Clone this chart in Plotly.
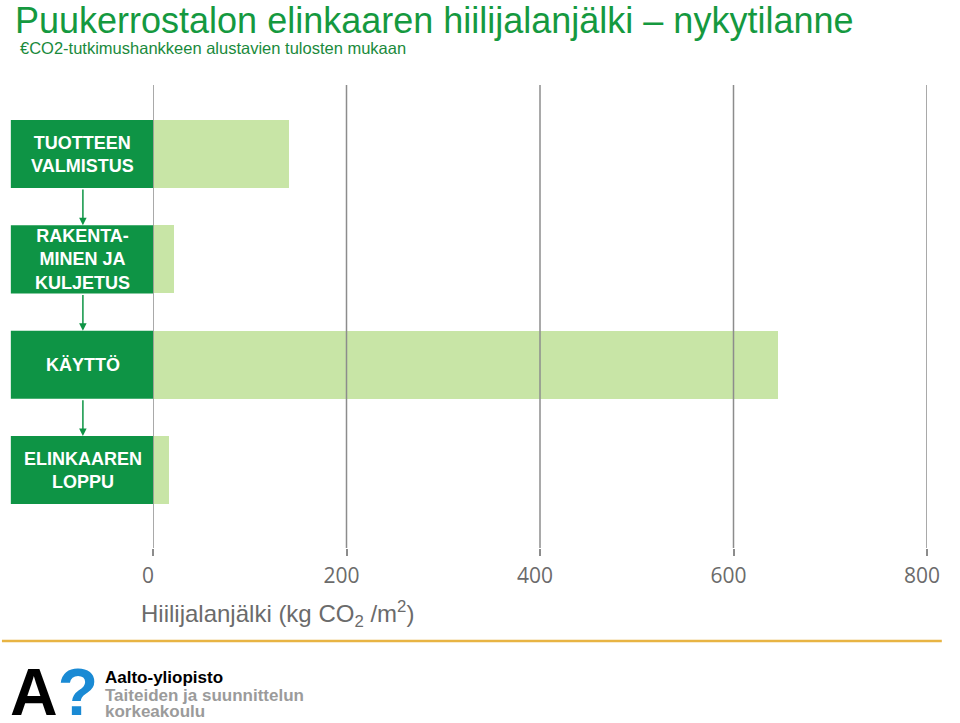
import plotly.graph_objects as go

# data
stages = ["TUOTTEEN<br>VALMISTUS", "RAKENTA-<br>MINEN JA<br>KULJETUS", "KÄYTTÖ", "ELINKAAREN<br>LOPPU"]
values = [141, 22, 646, 17]
tick_vals = [0, 200, 400, 600, 800]
tick_text = ["0", "200", "400", "600", "800"]

GREEN = "#0e9445"
LIGHT = "#c8e5a6"
GRID = "#8c8c8c"

# the page gets drawn about 952 px wide in the viewer
W, H = 952, 723
L, R, T, B = 153, 15, 85, 175
pw = W - L - R
ph = H - T - B


def px(x):
    return (x - L) / pw


def py(y):
    return (H - B - y) / ph


fig = go.Figure()
ypos = list(range(len(stages)))
fig.add_trace(go.Bar(x=values, y=ypos, orientation="h", width=0.646,
                     marker=dict(color=LIGHT, line=dict(width=0)),
                     hoverinfo="x"))

shapes = []
# grid lines on top of the bars
for v in tick_vals:
    shapes.append(dict(type="line", xref="x", yref="paper", x0=v, x1=v, y0=0, y1=1,
                       line=dict(color=GRID, width=1.5), layer="above"))
annotations = []
half = 0.323
for i, s in enumerate(stages):
    shapes.append(dict(type="rect", xref="paper", yref="y", x0=px(9), x1=0,
                       y0=i - half, y1=i + half, fillcolor=GREEN,
                       line=dict(width=0), layer="above"))
    annotations.append(dict(xref="paper", yref="y", x=px(82), y=i, text="<b>%s</b>" % s,
                            xanchor="center", yanchor="middle", showarrow=False,
                            font=dict(family="Liberation Sans", size=18, color="white")))
    if i < len(stages) - 1:
        annotations.append(dict(xref="paper", yref="y", x=px(82), y=i + 1 - half,
                                ax=0, ay=i + half, axref="pixel", ayref="y",
                                showarrow=True, arrowhead=2, arrowsize=1, arrowwidth=1.5,
                                arrowcolor=GREEN, text=""))

# orange separator
shapes.append(dict(type="line", xref="paper", yref="paper", x0=px(0), x1=px(W),
                   y0=py(641), y1=py(641), line=dict(color="#e8b443", width=2.5)))

annotations += [
    dict(xref="paper", yref="paper", x=px(11), y=py(-2), xanchor="left", yanchor="top",
         text="Puukerrostalon elinkaaren hiilijalanjälki – nykytilanne", showarrow=False,
         font=dict(family="Liberation Sans", size=36, color="#15993f")),
    dict(xref="paper", yref="paper", x=px(16), y=py(48), xanchor="left", yanchor="middle",
         text="€CO2-tutkimushankkeen alustavien tulosten mukaan", showarrow=False,
         font=dict(family="Liberation Sans", size=16.5, color="#1a8a3c")),
    dict(xref="paper", yref="paper", x=px(139), y=py(614), xanchor="left", yanchor="middle",
         text="Hiilijalanjälki (kg CO<sub>2</sub> /m<sup>2</sup>)", showarrow=False,
         font=dict(family="Liberation Sans", size=24, color="#6b6b6b")),
    dict(xref="paper", yref="paper", x=px(6), y=py(692), xanchor="left", yanchor="middle",
         text="<b>A<span style='color:#1a8ad4'>?</span></b>", showarrow=False,
         font=dict(family="Liberation Sans", size=66, color="black")),
    dict(xref="paper", yref="paper", x=px(102), y=py(677), xanchor="left", yanchor="middle",
         text="<b>Aalto-yliopisto</b>", showarrow=False,
         font=dict(family="Liberation Sans", size=17, color="black")),
    dict(xref="paper", yref="paper", x=px(102), y=py(695), xanchor="left", yanchor="middle",
         text="<b>Taiteiden ja suunnittelun</b>", showarrow=False,
         font=dict(family="Liberation Sans", size=17, color="#9b9b9b")),
    dict(xref="paper", yref="paper", x=px(102), y=py(712), xanchor="left", yanchor="middle",
         text="<b>korkeakoulu</b>", showarrow=False,
         font=dict(family="Liberation Sans", size=17, color="#9b9b9b")),
]

fig.update_xaxes(range=[0, 800], tickvals=tick_vals, ticktext=tick_text,
                 showgrid=False, zeroline=False, showline=False,
                 ticks="outside", ticklen=7, tickcolor=GRID, tickwidth=1.5,
                 ticklabelstandoff=2, ticklabelshift=-5,
                 tickfont=dict(family="Open Sans", size=21, color="#6b6b6b"))
fig.update_yaxes(range=[3.74, -0.655], showgrid=False, zeroline=False,
                 showticklabels=False, showline=False)

fig.update_layout(width=W, height=H, autosize=False,
                  margin=dict(l=L, r=R, t=T, b=B, pad=0),
                  paper_bgcolor="white", plot_bgcolor="white",
                  showlegend=False, bargap=0,
                  shapes=shapes, annotations=annotations)

fig.write_html("out.html",
               config={"displayModeBar": False, "responsive": False},
               post_script=("document.body.style.margin='0';"
                            "document.body.style.overflow='hidden';"))
